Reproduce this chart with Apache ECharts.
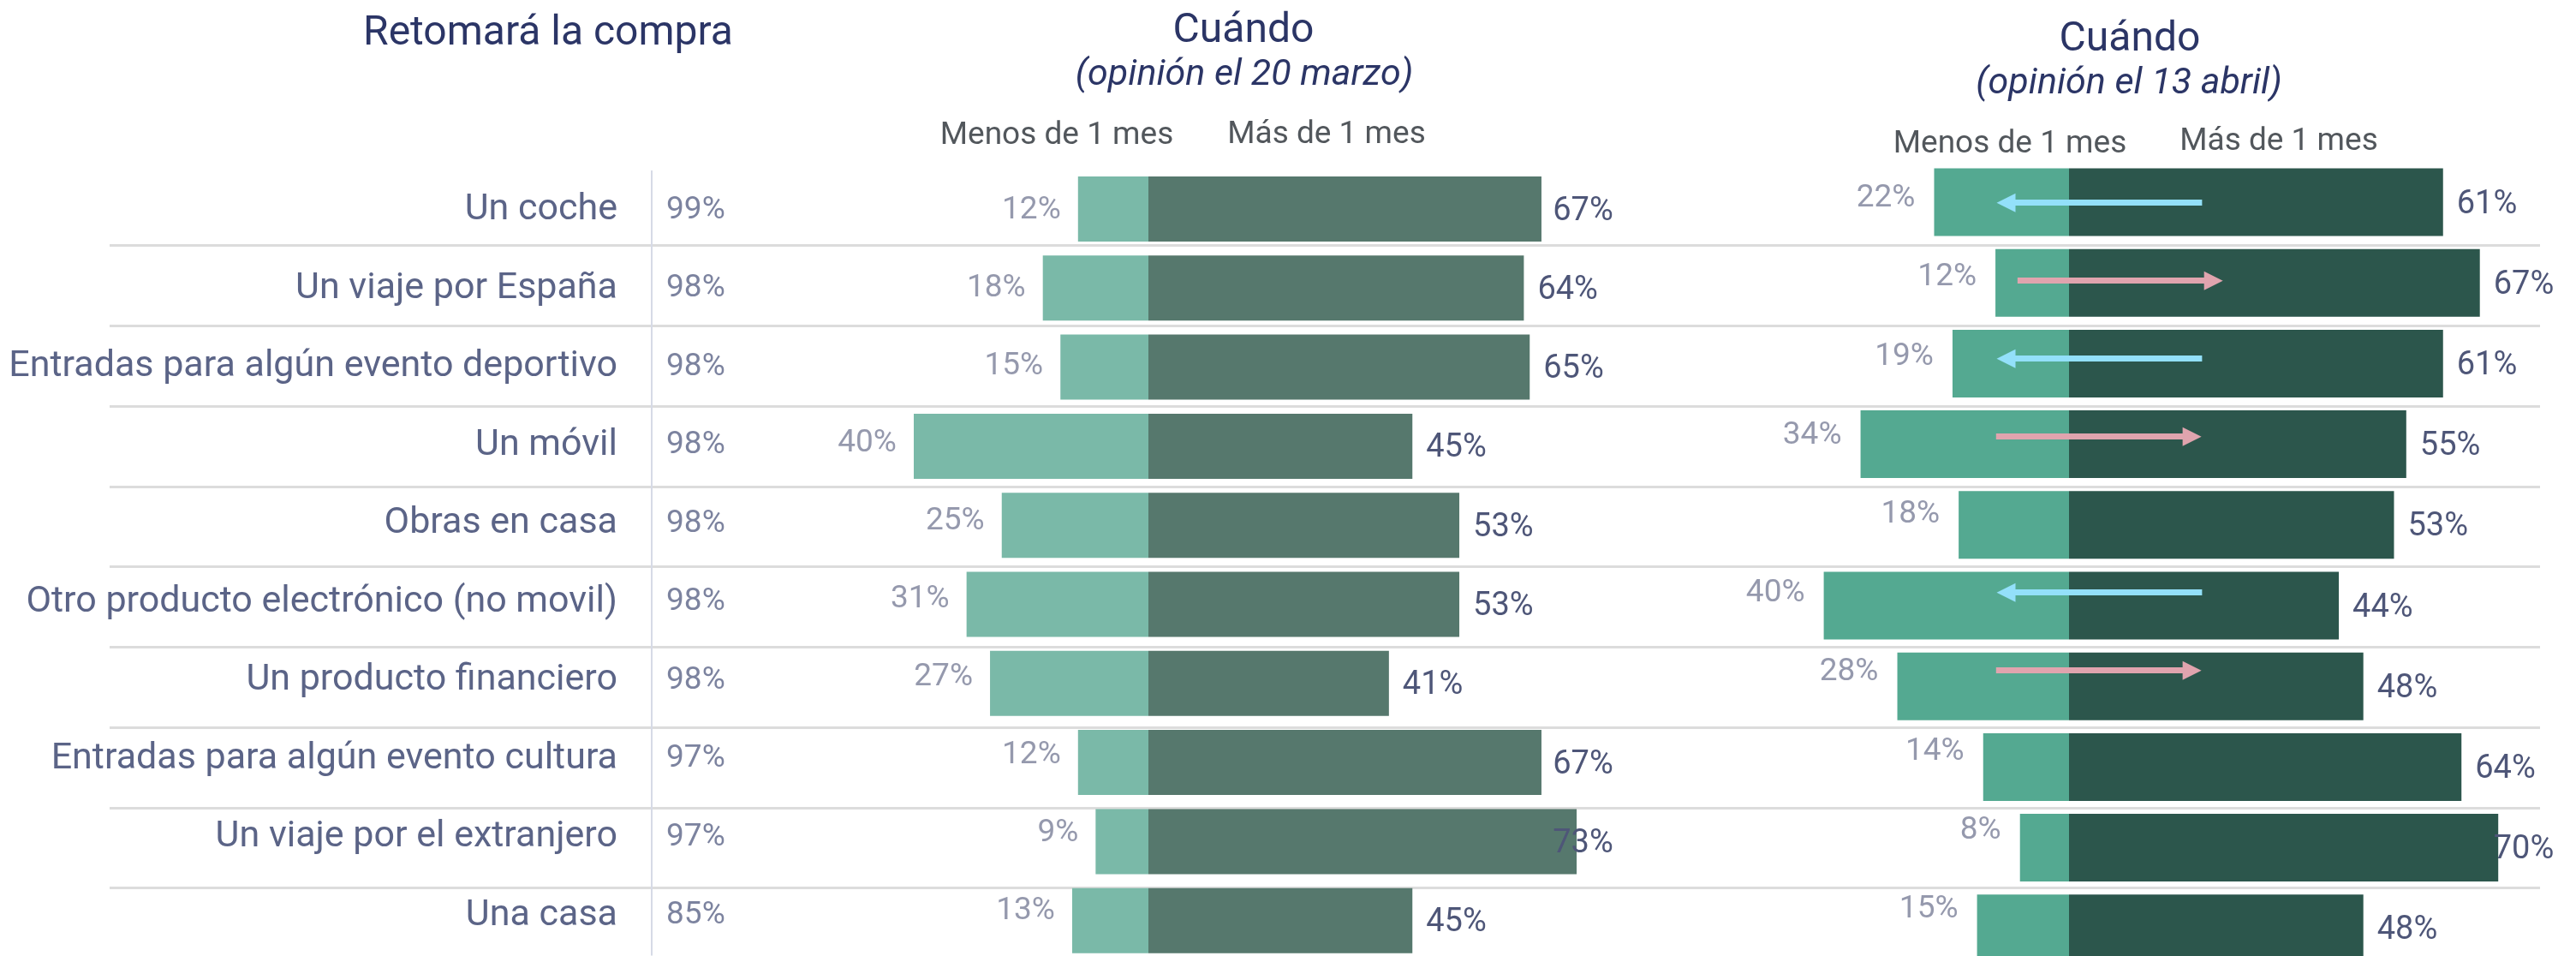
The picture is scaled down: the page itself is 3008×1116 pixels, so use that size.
<!DOCTYPE html>
<html>
<head>
    <meta charset="utf-8">
    <title>Retomará la compra</title>
    <script src="https://cdn.jsdelivr.net/npm/echarts@6.0.0/dist/echarts.min.js"></script>
    <style>
        body { margin: 0; background: #fff; }
    </style>
</head>
<body>
    <div id="main" style="width: 3008px;height:1116px;"></div>
    <script type="text/javascript">
// datos
var categories = ['Un coche', 'Un viaje por España', 'Entradas para algún evento deportivo', 'Un móvil',
    'Obras en casa', 'Otro producto electrónico (no movil)', 'Un producto financiero',
    'Entradas para algún evento cultura', 'Un viaje por el extranjero', 'Una casa'];
var retomaPct = [99, 98, 98, 98, 98, 98, 98, 97, 97, 85];
var marzoMenos = [12, 18, 15, 40, 25, 31, 27, 12, 9, 13];
var marzoMas = [67, 64, 65, 45, 53, 53, 41, 67, 73, 45];
var abrilMenos = [22, 12, 19, 34, 18, 40, 28, 14, 8, 15];
var abrilMas = [61, 67, 61, 55, 53, 44, 48, 64, 70, 48];
// flechas (cambio respecto a marzo), en % del eje de abril
var arrowRows = ['Un coche', 'Un viaje por España', 'Entradas para algún evento deportivo', 'Un móvil',
    'Otro producto electrónico (no movil)', 'Un producto financiero'];
var arrowFrom = [21.7, -8.4, 21.7, -11.9, 21.7, -11.9];
var arrowTo = [-11.8, 25.1, -11.8, 21.6, -11.8, 21.6];
var rowBounds = [1, 2, 3, 4, 5, 6, 7, 8, 9, 10];

var FONT = 'Roboto';
var X_MIN = -50, X_MAX = 80;
var midGrid = { left: 998.5, width: 890.5 };
var rigGrid = { left: 2058, width: 930.8 };
var midPx = midGrid.width / (X_MAX - X_MIN);
var rigPx = rigGrid.width / (X_MAX - X_MIN);
var ARROW_HEAD = 22;

var myChart = echarts.init(document.getElementById('main'));

// etiquetas de la derecha: no pasan de un cierto x
function rightItems(vals, cap, px) {
    return vals.map(function (v) {
        return { value: v, label: { offset: [-Math.max(0, v - cap) * px, 3] } };
    });
}
function leftPoints(vals) {
    return vals.map(function (v, i) { return [-v, categories[i]]; });
}

function hiddenX(idx, min, max) {
    return { type: 'value', gridIndex: idx, min: min, max: max, show: false };
}
function hiddenY(idx) {
    return { type: 'category', gridIndex: idx, data: categories, inverse: true, show: false };
}

var arrowData = arrowRows.map(function (r, i) {
    var dir = arrowTo[i] < arrowFrom[i] ? -1 : 1;
    // la punta del triángulo queda en arrowTo
    var end = arrowTo[i] - dir * (ARROW_HEAD / 2) / rigPx;
    return {
        coords: [[arrowFrom[i], r], [end, r]],
        lineStyle: { color: dir < 0 ? '#93e0fa' : '#e0a4ae' }
    };
});

var headText = function (x, y, text, font, color) {
    return {
        type: 'text', x: x, y: y, silent: true,
        style: {
            text: text, font: font, fill: color,
            textAlign: 'center', textVerticalAlign: 'middle',
            align: 'center', verticalAlign: 'middle'
        }
    };
};

var option = {
    animation: false,
    backgroundColor: '#ffffff',
    textStyle: { fontFamily: FONT },
    graphic: [
        headText(640, 39.5, 'Retomará la compra', '48px Roboto', '#2b3566'),
        headText(1452, 37, 'Cuándo', '48px Roboto', '#2b3566'),
        headText(1453, 88, '(opinión el 20 marzo)', 'italic 43px Roboto', '#2b3566'),
        headText(2487, 47, 'Cuándo', '48px Roboto', '#2b3566'),
        headText(2486, 98, '(opinión el 13 abril)', 'italic 43px Roboto', '#2b3566'),
        headText(1234, 159, 'Menos de 1 mes', '37px Roboto', '#52575c'),
        headText(1549, 158, 'Más de 1 mes', '37px Roboto', '#52575c'),
        headText(2347, 169, 'Menos de 1 mes', '37px Roboto', '#52575c'),
        headText(2661, 166, 'Más de 1 mes', '37px Roboto', '#52575c')
    ],
    grid: [
        { left: 128, width: 2838, top: 286.7, height: 843.75, outerBoundsMode: 'none' },   // líneas de filas
        { left: 761, width: 100, top: 199.75, height: 915, outerBoundsMode: 'none' },      // tabla
        { left: midGrid.left, width: midGrid.width, top: 197.85, height: 923, outerBoundsMode: 'none' },
        { left: midGrid.left, width: midGrid.width, top: 197.05, height: 909, outerBoundsMode: 'none' },
        { left: rigGrid.left, width: rigGrid.width, top: 188.9, height: 942, outerBoundsMode: 'none' },
        { left: rigGrid.left, width: rigGrid.width, top: 182.9, height: 922, outerBoundsMode: 'none' },
        { left: rigGrid.left, width: rigGrid.width, top: 191.2, height: 910, outerBoundsMode: 'none' }
    ],
    xAxis: [
        hiddenX(0, 0, 1),
        hiddenX(1, 0, 1),
        hiddenX(2, X_MIN, X_MAX),
        hiddenX(3, X_MIN, X_MAX),
        hiddenX(4, X_MIN, X_MAX),
        hiddenX(5, X_MIN, X_MAX),
        hiddenX(6, X_MIN, X_MAX)
    ],
    yAxis: [
        {
            type: 'value', gridIndex: 0, min: rowBounds[0], max: rowBounds[rowBounds.length - 1],
            interval: 1, inverse: true,
            axisLabel: { show: false }, axisLine: { show: false }, axisTick: { show: false },
            splitLine: { show: true, lineStyle: { color: '#dcdcdc', width: 3 } }
        },
        {
            type: 'category', gridIndex: 1, data: categories, inverse: true,
            axisTick: { show: false },
            axisLine: { show: true, lineStyle: { color: '#d6dae6', width: 2 } },
            axisLabel: { margin: 40, fontSize: 43, color: '#5b6487', fontFamily: FONT }
        },
        hiddenY(2), hiddenY(3), hiddenY(4), hiddenY(5), hiddenY(6)
    ],
    series: [
        {
            // columna "Retomará la compra"
            type: 'scatter', xAxisIndex: 1, yAxisIndex: 1, symbolSize: 0.1,
            itemStyle: { color: 'transparent' },
            data: categories.map(function (c) { return [0, c]; }),
            label: {
                show: true, position: 'right', distance: 17, fontSize: 37, color: '#5b6487', fontFamily: FONT,
                formatter: function (p) { return retomaPct[p.dataIndex] + '%'; }
            },
            emphasis: { disabled: true }
        },
        {
            name: 'Menos de 1 mes (marzo)', type: 'bar', xAxisIndex: 2, yAxisIndex: 2, stack: 'marzo',
            barWidth: 76, itemStyle: { color: '#7ab9a8' },
            data: marzoMenos.map(function (v) { return -v; }),
            emphasis: { disabled: true }
        },
        {
            name: 'Más de 1 mes (marzo)', type: 'bar', xAxisIndex: 2, yAxisIndex: 2, stack: 'marzo',
            barWidth: 76, itemStyle: { color: '#56786d' },
            data: rightItems(marzoMas, 66.6, midPx),
            label: {
                show: true, position: 'right', distance: 16, fontSize: 38, color: '#4e5678', fontFamily: FONT,
                formatter: '{c}%'
            },
            emphasis: { disabled: true }
        },
        {
            type: 'scatter', xAxisIndex: 3, yAxisIndex: 3, symbolSize: 0.1,
            itemStyle: { color: 'transparent' },
            data: leftPoints(marzoMenos),
            label: {
                show: true, position: 'left', distance: 20, offset: [0, 3], fontSize: 37, color: '#7a7f99',
                fontFamily: FONT,
                formatter: function (p) { return marzoMenos[p.dataIndex] + '%'; }
            },
            emphasis: { disabled: true }
        },
        {
            name: 'Menos de 1 mes (abril)', type: 'bar', xAxisIndex: 4, yAxisIndex: 4, stack: 'abril',
            barWidth: 79, itemStyle: { color: '#54a991' },
            data: abrilMenos.map(function (v) { return -v; }),
            emphasis: { disabled: true }
        },
        {
            name: 'Más de 1 mes (abril)', type: 'bar', xAxisIndex: 4, yAxisIndex: 4, stack: 'abril',
            barWidth: 79, itemStyle: { color: '#2c564c' },
            data: rightItems(abrilMas, 67.0, rigPx),
            label: {
                show: true, position: 'right', distance: 16, fontSize: 38, color: '#4e5678', fontFamily: FONT,
                formatter: '{c}%'
            },
            emphasis: { disabled: true }
        },
        {
            type: 'scatter', xAxisIndex: 5, yAxisIndex: 5, symbolSize: 0.1,
            itemStyle: { color: 'transparent' },
            data: leftPoints(abrilMenos),
            label: {
                show: true, position: 'left', distance: 22, offset: [0, 3], fontSize: 37, color: '#7a7f99',
                fontFamily: FONT,
                formatter: function (p) { return abrilMenos[p.dataIndex] + '%'; }
            },
            emphasis: { disabled: true }
        },
        {
            type: 'lines', coordinateSystem: 'cartesian2d', xAxisIndex: 6, yAxisIndex: 6,
            symbol: ['none', 'triangle'], symbolSize: ARROW_HEAD,
            lineStyle: { width: 7, opacity: 1, curveness: 0 },
            data: arrowData,
            silent: true,
            z: 5
        }
    ]
};

myChart.setOption(option);
    </script>
</body>
</html>
